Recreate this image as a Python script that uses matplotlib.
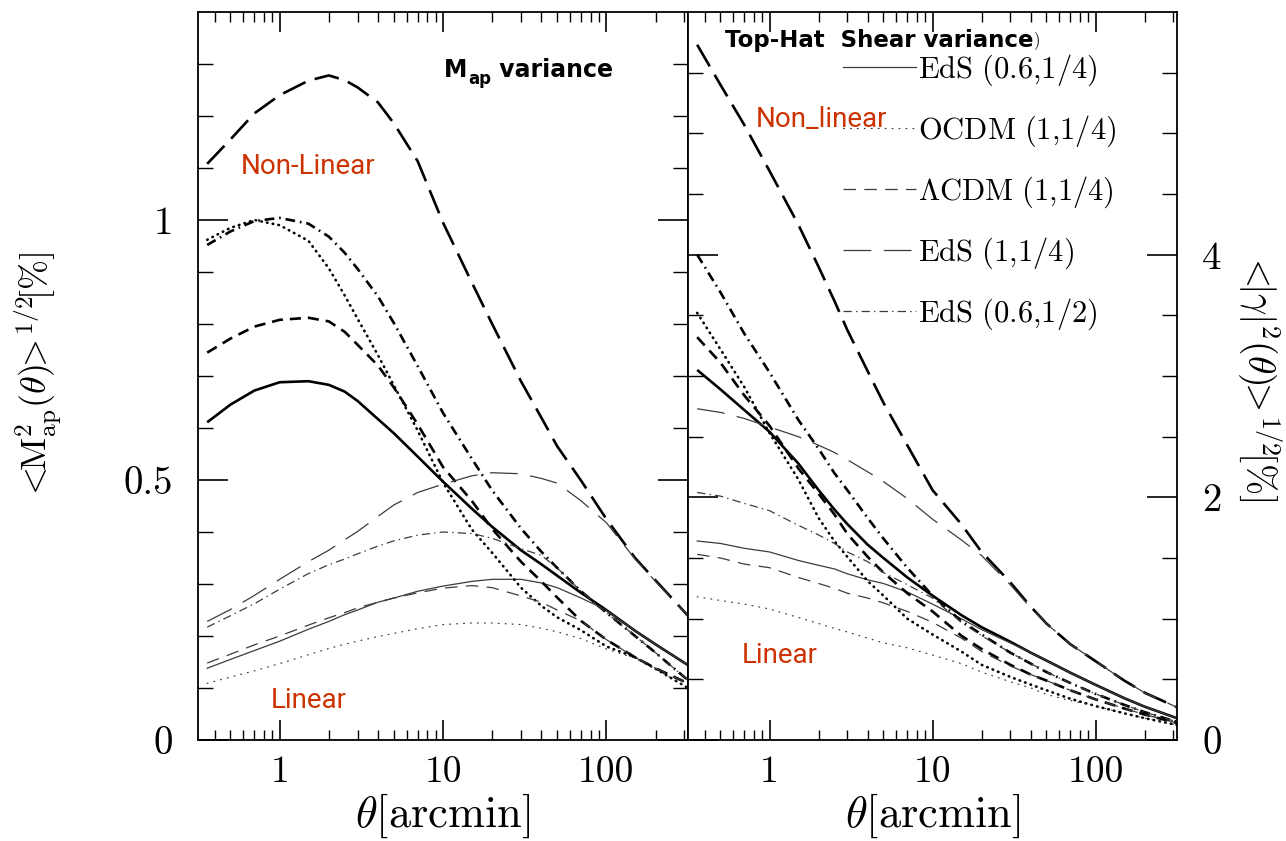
import matplotlib
matplotlib.use("Agg")
import numpy as np
import matplotlib.pyplot as plt
from matplotlib.ticker import FixedLocator, NullFormatter

plt.rcParams['lines.scale_dashes'] = False
plt.rcParams['mathtext.fontset'] = 'cm'
plt.rcParams['font.family'] = 'cmr10'
plt.rcParams['axes.unicode_minus'] = False

# angular scale [arcmin]
theta = [0.36, 0.5, 0.7, 1, 1.5, 2, 2.5, 3, 4, 5, 7, 10, 15, 20, 30, 40, 50, 70, 100, 150, 200, 316]

models = ["EdS (0.6,1/4)", "OCDM (1,1/4)", "ΛCDM (1,1/4)", "EdS (1,1/4)", "EdS (0.6,1/2)"]
legend_labels = [r'$\mathrm{EdS\ (0.6{,}1/4)}$', r'$\mathrm{OCDM\ (1{,}1/4)}$',
                 r'$\Lambda\mathrm{CDM\ (1{,}1/4)}$', r'$\mathrm{EdS\ (1{,}1/4)}$',
                 r'$\mathrm{EdS\ (0.6{,}1/2)}$']

# --- aperture mass dispersion <M_ap^2>^1/2 [%] ---
map_nl = {
    "EdS (0.6,1/4)": [0.611, 0.645, 0.672, 0.688, 0.69, 0.683, 0.67, 0.652, 0.617, 0.59, 0.545,
                      0.497, 0.445, 0.41, 0.365, 0.338, 0.316, 0.283, 0.25, 0.21, 0.184, 0.144],
    "OCDM (1,1/4)": [0.962, 0.985, 1.0, 0.99, 0.96, 0.907, 0.855, 0.81, 0.74, 0.682, 0.595,
                     0.495, 0.405, 0.36, 0.293, 0.258, 0.236, 0.211, 0.18, 0.159, 0.137, 0.10],
    "ΛCDM (1,1/4)": [0.745, 0.772, 0.795, 0.808, 0.812, 0.805, 0.785, 0.76, 0.72, 0.678, 0.607,
                     0.525, 0.46, 0.406, 0.343, 0.305, 0.274, 0.229, 0.193, 0.159, 0.138, 0.109],
    "EdS (1,1/4)": [1.108, 1.155, 1.205, 1.24, 1.268, 1.278, 1.269, 1.255, 1.226, 1.186, 1.113,
                    0.995, 0.88, 0.80, 0.69, 0.62, 0.565, 0.499, 0.425, 0.35, 0.307, 0.239],
    "EdS (0.6,1/2)": [0.952, 0.978, 0.998, 1.004, 0.993, 0.968, 0.937, 0.906, 0.853, 0.802, 0.719,
                      0.629, 0.541, 0.48, 0.407, 0.362, 0.331, 0.286, 0.245, 0.2, 0.168, 0.115],
}
map_lin = {
    "EdS (0.6,1/4)": [0.138, 0.155, 0.172, 0.19, 0.213, 0.228, 0.241, 0.25, 0.265, 0.273, 0.286,
                      0.296, 0.305, 0.309, 0.309, 0.302, 0.293, 0.273, 0.25, 0.21, 0.184, 0.144],
    "OCDM (1,1/4)": [0.109, 0.121, 0.133, 0.147, 0.164, 0.176, 0.184, 0.19, 0.199, 0.205, 0.214,
                     0.222, 0.225, 0.225, 0.222, 0.215, 0.208, 0.195, 0.175, 0.157, 0.137, 0.10],
    "ΛCDM (1,1/4)": [0.148, 0.165, 0.183, 0.20, 0.221, 0.235, 0.245, 0.254, 0.265, 0.273, 0.283,
                     0.292, 0.297, 0.293, 0.277, 0.265, 0.25, 0.229, 0.193, 0.159, 0.138, 0.109],
    "EdS (1,1/4)": [0.228, 0.251, 0.278, 0.309, 0.343, 0.365, 0.385, 0.401, 0.43, 0.452, 0.476,
                    0.492, 0.508, 0.514, 0.512, 0.503, 0.494, 0.46, 0.418, 0.348, 0.305, 0.239],
    "EdS (0.6,1/2)": [0.217, 0.239, 0.262, 0.29, 0.32, 0.337, 0.348, 0.358, 0.373, 0.383, 0.394,
                      0.40, 0.397, 0.388, 0.368, 0.355, 0.331, 0.286, 0.245, 0.2, 0.168, 0.115],
}

# --- top-hat shear dispersion <|gamma|^2>^1/2 [%] ---
shear_nl = {
    "EdS (0.6,1/4)": [3.05, 2.89, 2.72, 2.54, 2.28, 2.06, 1.90, 1.78, 1.61, 1.50, 1.34,
                      1.19, 1.03, 0.93, 0.81, 0.72, 0.655, 0.555, 0.455, 0.345, 0.275, 0.18],
    "OCDM (1,1/4)": [3.52, 3.22, 2.91, 2.53, 2.15, 1.83, 1.64, 1.51, 1.31, 1.19, 1.0,
                     0.87, 0.73, 0.62, 0.52, 0.457, 0.41, 0.34, 0.28, 0.22, 0.18, 0.124],
    "ΛCDM (1,1/4)": [3.32, 3.11, 2.84, 2.59, 2.24, 2.03, 1.86, 1.70, 1.51, 1.38, 1.21,
                     1.06, 0.86, 0.75, 0.62, 0.54, 0.49, 0.41, 0.335, 0.26, 0.21, 0.14],
    "EdS (1,1/4)": [5.73, 5.40, 5.07, 4.69, 4.25, 3.90, 3.62, 3.38, 3.04, 2.78, 2.43,
                    2.06, 1.78, 1.55, 1.30, 1.10, 0.96, 0.79, 0.65, 0.49, 0.39, 0.27],
    "EdS (0.6,1/2)": [4.0, 3.69, 3.35, 3.03, 2.64, 2.40, 2.20, 2.06, 1.83, 1.66, 1.42,
                      1.19, 0.98, 0.87, 0.72, 0.63, 0.56, 0.47, 0.38, 0.29, 0.23, 0.15],
}
shear_lin = {
    "EdS (0.6,1/4)": [1.64, 1.62, 1.58, 1.55, 1.48, 1.44, 1.41, 1.37, 1.32, 1.29, 1.22,
                      1.12, 1.0, 0.91, 0.80, 0.72, 0.655, 0.555, 0.455, 0.345, 0.275, 0.18],
    "OCDM (1,1/4)": [1.18, 1.15, 1.12, 1.08, 1.01, 0.96, 0.92, 0.89, 0.84, 0.80, 0.76,
                     0.70, 0.63, 0.56, 0.48, 0.43, 0.375, 0.325, 0.28, 0.22, 0.18, 0.124],
    "ΛCDM (1,1/4)": [1.53, 1.50, 1.45, 1.42, 1.34, 1.29, 1.25, 1.21, 1.17, 1.13, 1.06,
                     0.97, 0.84, 0.73, 0.61, 0.54, 0.49, 0.41, 0.335, 0.26, 0.21, 0.14],
    "EdS (1,1/4)": [2.73, 2.70, 2.65, 2.58, 2.50, 2.43, 2.37, 2.31, 2.21, 2.13, 1.99,
                    1.82, 1.65, 1.52, 1.28, 1.09, 0.96, 0.79, 0.65, 0.49, 0.39, 0.27],
    "EdS (0.6,1/2)": [2.04, 2.01, 1.95, 1.89, 1.77, 1.69, 1.62, 1.55, 1.47, 1.38, 1.28,
                      1.17, 0.97, 0.86, 0.72, 0.63, 0.56, 0.47, 0.38, 0.29, 0.23, 0.15],
}

# line styles per model: thick = non-linear, thin = linear
thick_ls = {
    "EdS (0.6,1/4)": '-',
    "OCDM (1,1/4)": (0, (0.4, 3.8)),
    "ΛCDM (1,1/4)": (0, (8, 5)),
    "EdS (1,1/4)": (0, (18, 7)),
    "EdS (0.6,1/2)": (0, (7, 3.5, 1.2, 3.5)),
}
thin_ls = {
    "EdS (0.6,1/4)": '-',
    "OCDM (1,1/4)": (0, (0.6, 4.4)),
    "ΛCDM (1,1/4)": (0, (9, 6)),
    "EdS (1,1/4)": (0, (20, 9)),
    "EdS (0.6,1/2)": (0, (6, 3, 1, 3)),
}
THICK_LW, THIN_LW = 1.9, 0.9
THIN_COLOR = '#3c3c3c'
RED = '#cc3300'

fig = plt.figure(figsize=(12.86, 8.41), dpi=100)
axL = fig.add_axes([198 / 1286, 101 / 841, 490 / 1286, 728 / 841])
axR = fig.add_axes([688 / 1286, 101 / 841, 489 / 1286, 728 / 841])


def draw_panel(ax, nl, lin):
    handles = []
    for m in models:
        cap = 'round' if m.startswith("OCDM") else 'butt'
        ax.plot(theta, nl[m], color='black', lw=THICK_LW, ls=thick_ls[m],
                dash_capstyle=cap, solid_capstyle='butt')
        h, = ax.plot(theta, lin[m], color=THIN_COLOR, lw=THIN_LW, ls=thin_ls[m],
                     dash_capstyle=cap)
        handles.append(h)
    return handles


draw_panel(axL, map_nl, map_lin)
thin_handles = draw_panel(axR, shear_nl, shear_lin)

minor_x = [m * 10.0 ** k for k in (-1, 0, 1, 2) for m in range(2, 10)
           if 10 ** -0.5 < m * 10.0 ** k < 10 ** 2.5]

for ax in (axL, axR):
    ax.set_xscale('log')
    ax.set_xlim(10 ** -0.5, 10 ** 2.5)
    ax.xaxis.set_major_locator(FixedLocator([1, 10, 100]))
    ax.xaxis.set_minor_locator(FixedLocator(minor_x))
    ax.xaxis.set_minor_formatter(NullFormatter())
    ax.set_xticklabels(['1', '10', '100'])
    ax.tick_params(axis='x', which='major', direction='in', length=14.4, width=1.2,
                   top=True, bottom=True, labelsize=27, pad=11)
    ax.tick_params(axis='x', which='minor', direction='in', length=7.2, width=1.0,
                   top=True, bottom=True)
    ax.tick_params(axis='y', which='major', direction='in', length=21.6, width=1.2,
                   left=True, right=True, labelsize=28, pad=18)
    ax.tick_params(axis='y', which='minor', direction='in', length=10.8, width=1.0,
                   left=True, right=True)
    for sp in ax.spines.values():
        sp.set_linewidth(1.3)
    ax.set_xlabel(r'$\theta[\mathrm{arcmin}]$', fontsize=32, va='center')
    ax.xaxis.set_label_coords(0.5, -0.104)

axL.set_ylim(0, 1.4)
axL.yaxis.set_major_locator(FixedLocator([0, 0.5, 1.0]))
axL.set_yticklabels(['0', '0.5', '1'])
axL.yaxis.set_minor_locator(FixedLocator([0.1, 0.2, 0.3, 0.4, 0.6, 0.7, 0.8, 0.9,
                                          1.1, 1.2, 1.3]))
axL.set_ylabel(r'$<\!\!\mathrm{M}^2_{\rm ap}(\theta)\!\!>^{\!1/2}\![\%]$', fontsize=26,
               va='center', ha='center')
axL.yaxis.set_label_coords(-0.3265, 0.5)

axR.set_ylim(0, 6)
axR.yaxis.set_major_locator(FixedLocator([0, 2, 4]))
axR.set_yticklabels(['0', '2', '4'])
axR.yaxis.set_minor_locator(FixedLocator([0.5, 1, 1.5, 2.5, 3, 3.5, 4.5, 5, 5.5]))
axR.tick_params(axis='y', which='both', labelleft=False, labelright=True)
axR.yaxis.set_label_position('right')
axR.set_ylabel(r'$<\!\!|\gamma|^2(\theta)\!\!>^{\!1/2}\![\%]$', fontsize=27, rotation=-90,
               va='center', ha='center')
axR.yaxis.set_label_coords(1.1677, 0.5)

# legend of the cosmological models
axR.legend(thin_handles, legend_labels, loc='upper left', bbox_to_anchor=(0.317, 0.9445),
           frameon=False, fontsize=22, handlelength=2.4, handletextpad=0.05,
           labelspacing=0.84, borderpad=0, borderaxespad=0)

# panel titles
sans = 'DejaVu Sans'
tM = axL.text(0.502, 0.9107, 'M', transform=axL.transAxes, fontfamily=sans,
              fontweight='bold', fontsize=17, va='baseline', ha='left')
tsub = axL.annotate('ap', xy=(1, 0), xycoords=tM, xytext=(0.5, -1.5),
                    textcoords='offset points', fontfamily=sans, fontweight='bold',
                    fontsize=12, va='baseline', ha='left')
axL.annotate(' variance', xy=(1, 0), xycoords=(tsub, tM), xytext=(0, 0),
             textcoords='offset points', fontfamily=sans, fontweight='bold',
             fontsize=17, va='bottom', ha='left')

tT = axR.text(0.0757, 0.952, 'Top-Hat  Shear variance', transform=axR.transAxes,
              fontfamily=sans, fontweight='bold', fontsize=16.5, va='baseline', ha='left')
axR.annotate(')', xy=(1, 0), xycoords=tT, xytext=(0, 2), textcoords='offset points',
             fontfamily='cmr10', fontsize=12, va='bottom', ha='left')

# regime annotations
red_font = 'Roboto'
axL.text(0.0878, 0.777, 'Non-Linear', transform=axL.transAxes, color=RED,
         fontfamily=red_font, fontsize=20, va='baseline', ha='left')
axL.text(0.149, 0.044, 'Linear', transform=axL.transAxes, color=RED,
         fontfamily=red_font, fontsize=20, va='baseline', ha='left')
axR.text(0.139, 0.842, 'Non_linear', transform=axR.transAxes, color=RED,
         fontfamily=red_font, fontsize=20, va='baseline', ha='left')
axR.text(0.110, 0.1058, 'Linear', transform=axR.transAxes, color=RED,
         fontfamily=red_font, fontsize=20, va='baseline', ha='left')

fig.savefig('out.png', dpi=100)
